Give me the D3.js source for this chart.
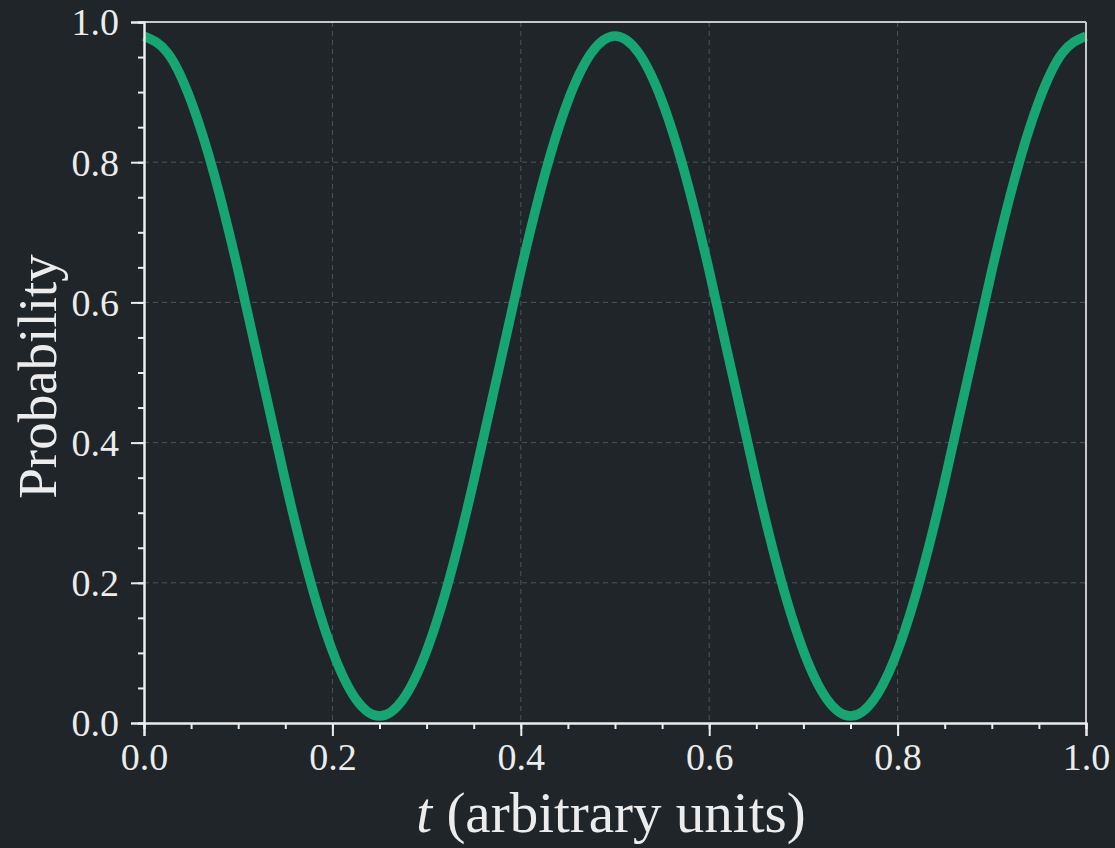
<!DOCTYPE html>
<html>
<head>
<meta charset="utf-8">
<style>
  body { margin: 0; background: #1f2528; }
  svg { display: block; }
  .tick text { font-family: "Liberation Serif", serif; }
</style>
<script src="https://d3js.org/d3.v7.min.js"></script>
</head>
<body>
<svg width="1115" height="848"></svg>
<script>

// values, every 0.025 in t
var tValues = [0, 0.025, 0.05, 0.075, 0.1, 0.125, 0.15, 0.175, 0.2, 0.225,
               0.25, 0.275, 0.3, 0.325, 0.35, 0.375, 0.4, 0.425, 0.45, 0.475,
               0.5, 0.525, 0.55, 0.575, 0.6, 0.625, 0.65, 0.675, 0.7, 0.725,
               0.75, 0.775, 0.8, 0.825, 0.85, 0.875, 0.9, 0.925, 0.95, 0.975, 1.0];
var probValues = [0.980, 0.956, 0.887, 0.780, 0.645, 0.495, 0.345, 0.210, 0.103, 0.034,
                  0.010, 0.034, 0.103, 0.210, 0.345, 0.495, 0.645, 0.780, 0.887, 0.956,
                  0.980, 0.956, 0.887, 0.780, 0.645, 0.495, 0.345, 0.210, 0.103, 0.034,
                  0.010, 0.034, 0.103, 0.210, 0.345, 0.495, 0.645, 0.780, 0.887, 0.956, 0.980];
var majorTicks = [0, 0.2, 0.4, 0.6, 0.8, 1.0];
var minorTicks = d3.range(0, 1.0001, 0.05);

var svg = d3.select("svg");
var mLeft = 144, mRight = 1086, mTop = 22, mBottom = 723;

var x = d3.scaleLinear().domain([0, 1]).range([mLeft, mRight]);
var y = d3.scaleLinear().domain([0, 1]).range([mBottom, mTop]);

var textColor = "#ececec";

// grid
var grid = svg.append("g");
grid.selectAll(".gx").data([0.2, 0.4, 0.6, 0.8]).enter().append("line")
    .attr("x1", function(d) { return x(d); }).attr("x2", function(d) { return x(d); })
    .attr("y1", mTop).attr("y2", mBottom)
    .attr("stroke", "#4e5457").attr("stroke-width", 1).attr("stroke-dasharray", "5,4");
grid.selectAll(".gy").data([0.2, 0.4, 0.6, 0.8]).enter().append("line")
    .attr("y1", function(d) { return y(d); }).attr("y2", function(d) { return y(d); })
    .attr("x1", mLeft).attr("x2", mRight)
    .attr("stroke", "#4e5457").attr("stroke-width", 1).attr("stroke-dasharray", "5,4");

// curve
var line = d3.line()
    .x(function(d, i) { return x(tValues[i]); })
    .y(function(d) { return y(d); })
    .curve(d3.curveNatural);

svg.append("path")
    .datum(probValues)
    .attr("d", line)
    .attr("fill", "none")
    .attr("stroke", "#17a673")
    .attr("stroke-width", 9.5)
    .attr("stroke-linecap", "butt");

// frame (top / right)
svg.append("line").attr("x1", mLeft).attr("x2", mRight).attr("y1", mTop).attr("y2", mTop)
    .attr("stroke", "#c8c8c8").attr("stroke-width", 2);
svg.append("line").attr("x1", mRight).attr("x2", mRight).attr("y1", mTop).attr("y2", mBottom)
    .attr("stroke", "#c8c8c8").attr("stroke-width", 2);

// axes
var xMinor = svg.append("g").attr("transform", "translate(0," + mBottom + ")")
    .call(d3.axisBottom(x).tickValues(minorTicks).tickSize(6).tickFormat(""));
var yMinor = svg.append("g").attr("transform", "translate(" + mLeft + ",0)")
    .call(d3.axisLeft(y).tickValues(minorTicks).tickSize(6).tickFormat(""));

var xAxis = svg.append("g").attr("transform", "translate(0," + mBottom + ")")
    .call(d3.axisBottom(x).tickValues(majorTicks).tickSize(13).tickPadding(7).tickFormat(d3.format(".1f")));
var yAxis = svg.append("g").attr("transform", "translate(" + mLeft + ",0)")
    .call(d3.axisLeft(y).tickValues(majorTicks).tickSize(13).tickPadding(12).tickFormat(d3.format(".1f")));

[xMinor, yMinor, xAxis, yAxis].forEach(function(g) {
  g.selectAll(".domain").attr("stroke", textColor).attr("stroke-width", 2);
  g.selectAll(".tick line").attr("stroke", textColor).attr("stroke-width", 2);
  g.selectAll(".tick text").attr("fill", textColor).style("font-size", "38px");
});
yAxis.selectAll(".tick text").attr("dy", "0.34em");

// axis labels
var xl = svg.append("text")
    .attr("x", (mLeft + mRight) / 2 - 4).attr("y", 832)
    .attr("text-anchor", "middle")
    .attr("fill", textColor)
    .style("font-family", "'Liberation Serif', serif")
    .style("font-size", "57px");
xl.append("tspan").style("font-style", "italic").text("t");
xl.append("tspan").text(" (arbitrary units)");

svg.append("text")
    .attr("transform", "translate(56," + ((mTop + mBottom) / 2 + 4) + ") rotate(-90)")
    .attr("text-anchor", "middle")
    .attr("fill", textColor)
    .style("font-family", "'Liberation Serif', serif")
    .style("font-size", "55px")
    .text("Probability");

</script>
</body>
</html>
